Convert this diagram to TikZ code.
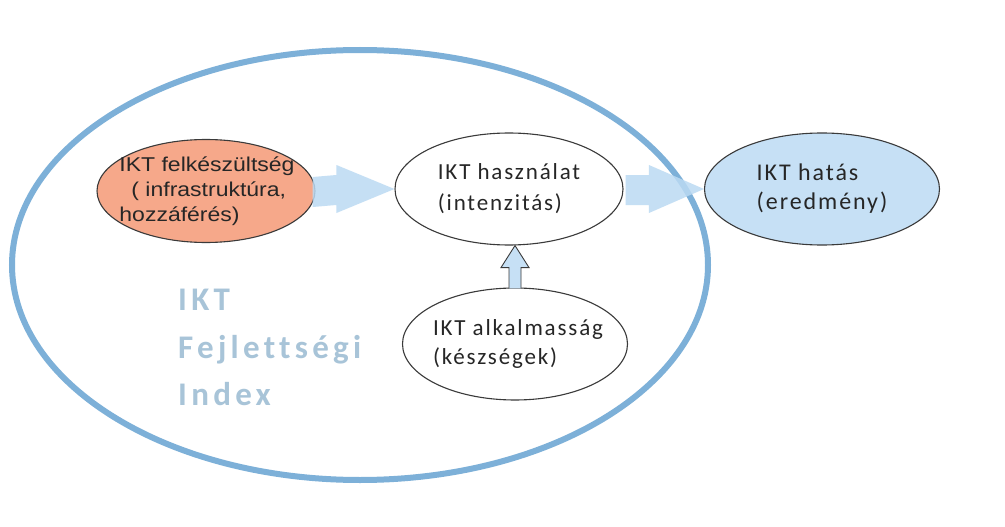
\documentclass[tikz,border=0pt]{standalone}
\usepackage{fontspec}
\setmainfont{Carlito}
\newfontfamily\bigspaced[LetterSpace=13,Ligatures={NoCommon}]{Carlito}
\newfontfamily\midspaced[LetterSpace=8,Ligatures={NoCommon}]{Carlito}
\newfontfamily\widesans[FakeStretch=1.15]{Liberation Sans}
\usetikzlibrary{shapes.geometric,calc}
\definecolor{ringblue}{HTML}{7DB0D8}
\definecolor{arrowblue}{HTML}{BBDAF3}
\definecolor{salmon}{HTML}{F6A88A}
\definecolor{paleblue}{HTML}{C6E0F5}
\definecolor{edgegray}{HTML}{3A3A3A}
\definecolor{indextext}{HTML}{A8C4D8}
\begin{document}
\begin{tikzpicture}[x=1pt,y=-1pt,
  bubble/.style={ellipse, draw=edgegray, line width=1.1pt, inner sep=0pt,
    align=left, text=black!85},
  bubbletext/.style={align=left, inner sep=0pt, text=black!85},
  idxtext/.style={anchor=base west, inner sep=0pt, text=indextext,
    font=\bigspaced\bfseries\fontsize{33}{40}\selectfont},
  fatarrow/.style={fill=arrowblue, fill opacity=0.85},
  smallarrow/.style={fill=paleblue, draw=edgegray, line width=0.9pt, line join=miter}]
\useasboundingbox[fill=white] (0,0) rectangle (1005,527);

% big ring
\node[ellipse, draw=ringblue, line width=6pt, minimum width=696pt, minimum height=430pt, inner sep=0pt] (ring) at (360,265) {};

% index text
\node[idxtext] (idx1) at (178,310) {IKT};
\node[idxtext] (idx2) at (178,358) {Fejlettségi};
\node[idxtext] (idx3) at (178,405) {Index};

% nodes
\node[bubble, fill=salmon, minimum width=218pt, minimum height=103pt] (o) at (206,191) {};
\node[bubbletext, font=\widesans\fontsize{20}{25}\selectfont] (otext) at ($(o.center)+(1,0)$)
  {IKT felkészültség\\\hspace{0.6em}( infrastruktúra,\\hozzáférés)};
\node[bubble, fill=white, minimum width=228pt, minimum height=112pt,
  font=\midspaced\fontsize{23}{31}\selectfont] (m) at (509,189)
  {IKT használat\\(intenzitás)};
\node[bubble, fill=paleblue, minimum width=235pt, minimum height=112pt,
  font=\midspaced\fontsize{24}{29}\selectfont] (r) at (822,189)
  {IKT hatás\\(eredmény)};
\node[bubble, fill=white, minimum width=225pt, minimum height=112pt] (k) at (515,344) {};
\node[bubbletext, font=\midspaced\fontsize{23}{29}\selectfont] (ktext) at ($(k.center)+(3,0)$)
  {IKT alkalmasság\\(készségek)};

% fat arrow o -> m
\path[fatarrow] ($(o.east)+(-3,-14)$) -- ($(m.west)+(-58,-14)$) -- ($(m.west)+(-58,-24)$)
  -- (m.west) -- ($(m.west)+(-58,24)$) -- ($(m.west)+(-58,16)$) -- ($(o.east)+(-3,16)$) -- cycle;
% fat arrow m -> r
\path[fatarrow] ($(m.east)+(2,-14)$) -- ($(r.west)+(-55,-14)$) -- ($(r.west)+(-55,-24)$)
  -- (r.west) -- ($(r.west)+(-55,24)$) -- ($(r.west)+(-55,16)$) -- ($(m.east)+(2,16)$) -- cycle;

% small up arrow k -> m
\coordinate (tip) at (k.north |- m.south);
\draw[smallarrow] ($(k.north)+(-6,1)$) -- ($(tip)+(-6,22)$) -- ($(tip)+(-14,22)$) -- (tip)
  -- ($(tip)+(14,22)$) -- ($(tip)+(6,22)$) -- ($(k.north)+(6,1)$);
\end{tikzpicture}
\end{document}
